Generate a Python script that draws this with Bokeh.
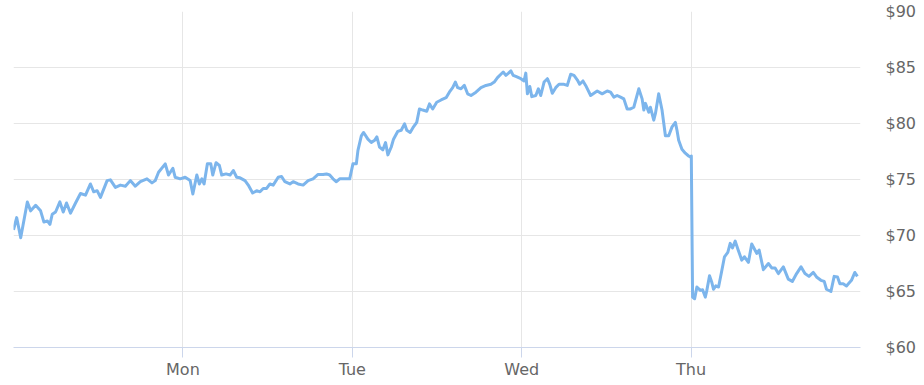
from bokeh.plotting import figure
from bokeh.models import ColumnDataSource, FixedTicker, Range1d, NumeralTickFormatter
from bokeh.embed import file_html
from bokeh.resources import INLINE

# hours since Sunday 00:00
hours = [0.0, 0.45, 1.02, 1.96, 2.43, 3.14, 3.84, 4.31, 4.79, 5.16, 5.49, 5.96, 6.57, 7.05, 7.51, 8.08,
         8.79, 9.49, 10.2, 10.9, 11.37, 11.85, 12.32, 13.26, 13.73, 14.44, 15.14, 15.85, 16.55, 17.26,
         17.97, 18.91, 19.62, 20.08, 20.55, 21.5, 21.96, 22.58, 22.91, 23.62, 24.32, 25.03, 25.41, 25.97,
         26.34, 26.68, 27.0, 27.47, 27.95, 28.23, 28.7, 29.17, 29.5, 30.11, 30.68, 31.14, 31.62, 32.09,
         32.8, 33.26, 33.88, 34.45, 34.92, 35.38, 35.86, 36.33, 36.79, 37.5, 37.98, 38.45, 39.15, 39.62,
         40.32, 41.03, 41.74, 42.44, 43.15, 43.86, 44.34, 44.8, 45.27, 45.75, 46.21, 46.92, 47.63, 48.09,
         48.57, 48.8, 49.28, 49.6, 50.21, 50.69, 51.16, 51.48, 51.86, 52.33, 52.71, 53.04, 53.52, 53.84,
         54.45, 54.93, 55.4, 55.72, 56.2, 56.67, 57.13, 57.51, 57.98, 58.55, 58.93, 59.39, 59.96, 60.58,
         61.29, 61.75, 62.22, 62.6, 62.92, 63.4, 63.87, 64.34, 64.82, 65.52, 66.23, 66.94, 67.64, 68.11,
         68.57, 69.05, 69.38, 69.76, 70.13, 70.47, 70.79, 71.17, 71.88, 72.34, 72.58, 72.81, 73.15, 73.43,
         74.0, 74.36, 74.7, 75.17, 75.64, 75.98, 76.34, 76.82, 77.29, 78.0, 78.46, 78.94, 79.41, 79.87,
         80.21, 80.68, 81.06, 81.77, 82.23, 82.7, 83.4, 84.11, 84.59, 85.06, 85.52, 86.0, 86.47, 86.94,
         87.41, 87.88, 88.59, 89.06, 89.3, 89.53, 90.0, 90.24, 90.71, 90.95, 91.41, 91.88, 92.36, 92.83,
         93.3, 93.77, 94.0, 94.24, 94.7, 95.18, 95.65, 95.89, 96.03, 96.21, 96.5, 96.82, 97.3, 97.63,
         98.01, 98.23, 98.61, 98.94, 99.18, 99.51, 99.89, 100.27, 100.73, 101.2, 101.54, 101.86, 102.25,
         102.62, 103.18, 103.56, 104.12, 104.59, 104.97, 105.3, 105.64, 106.24, 106.95, 107.42, 107.9,
         108.36, 109.07, 109.77, 110.34, 110.95, 111.57, 112.13, 112.7, 113.31, 113.77, 114.39, 114.86,
         115.18, 115.81, 116.27, 116.74, 117.08, 117.54, 118.01, 118.72, 119.2, 119.56]

price = [70.5, 71.6, 69.8, 73.0, 72.2, 72.7, 72.2, 71.2, 71.3, 71.0, 71.9, 72.1, 73.0, 72.1, 72.9, 72.0,
         72.9, 73.75, 73.6, 74.6, 73.9, 74.0, 73.4, 74.9, 74.97, 74.3, 74.5, 74.4, 74.9, 74.4,
         74.8, 75.06, 74.7, 74.9, 75.65, 76.4, 75.4, 76.0, 75.2, 75.06, 75.2, 74.9, 73.7, 75.4,
         74.6, 75.06, 74.6, 76.4, 76.4, 75.4, 76.5, 76.25, 75.4, 75.5, 75.4, 75.8, 75.2, 75.15,
         74.9, 74.5, 73.8, 74.0, 73.9, 74.2, 74.2, 74.6, 74.5, 75.2, 75.27, 74.8, 74.6, 74.8,
         74.6, 74.5, 74.9, 75.06, 75.45, 75.45, 75.5, 75.4, 75.06, 74.8, 75.06, 75.06, 75.06, 76.4,
         76.4, 77.6, 78.9, 79.2, 78.6, 78.3, 78.5, 78.8, 77.9, 77.65, 78.3, 77.2, 77.9, 78.6,
         79.3, 79.4, 79.97, 79.4, 79.2, 79.7, 80.1, 81.3, 81.2, 81.1, 81.75, 81.3, 81.9, 82.1,
         82.3, 82.8, 83.2, 83.7, 83.2, 83.1, 83.4, 82.65, 82.5, 82.8, 83.2, 83.4, 83.5, 83.7,
         84.1, 84.4, 84.6, 84.3, 84.5, 84.7, 84.3, 84.2, 84.0, 83.8, 84.5, 82.65, 83.3, 82.4,
         82.5, 83.1, 82.5, 83.7, 84.0, 83.5, 82.7, 83.2, 83.5, 83.5, 83.4, 84.4, 84.3, 83.9,
         83.5, 83.8, 83.4, 82.5, 82.7, 82.9, 82.65, 82.9, 82.8, 82.35, 82.5, 82.35, 82.2, 81.3,
         81.3, 81.45, 83.1, 82.2, 81.2, 81.8, 81.0, 81.45, 80.3, 80.9, 82.65, 81.2, 78.9, 78.9,
         79.7, 80.1, 79.4, 78.5, 77.7, 77.35, 77.1, 77.0, 77.1, 64.5, 64.35, 65.4, 65.1, 65.15,
         64.5, 65.1, 66.4, 65.8, 65.2, 65.5, 65.4, 66.6, 68.1, 68.5, 69.3, 68.9, 69.5,
         68.8, 67.8, 68.1, 67.6, 69.25, 68.8, 68.4, 68.7, 66.95, 67.5, 67.1, 67.1,
         66.6, 67.2, 66.1, 65.9, 66.6, 67.2, 66.6, 66.35, 66.7, 66.3, 66.0, 65.9,
         65.2, 65.0, 66.35, 66.3, 65.7, 65.7, 65.5, 66.0, 66.7, 66.35]

day_ticks = [24, 48, 72, 96]
day_labels = ["Mon", "Tue", "Wed", "Thu"]
price_ticks = [60, 65, 70, 75, 80, 85, 90]

src = ColumnDataSource(dict(x=hours, y=price))

p = figure(width=924, height=385, output_backend="svg", toolbar_location=None,
           x_range=Range1d(0, 120), y_range=Range1d(60, 90),
           y_axis_location="right",
           min_border_left=13, min_border_top=11, min_border_right=64, min_border_bottom=38)
p.outline_line_color = None
p.background_fill_color = "white"
p.border_fill_color = "white"

p.line("x", "y", source=src, line_color="#7cb5ec", line_width=3, line_join="round")

xa = p.xaxis[0]
xa.ticker = FixedTicker(ticks=day_ticks)
xa.major_label_overrides = {t: l for t, l in zip(day_ticks, day_labels)}
xa.axis_line_color = "#ccd6eb"
xa.major_tick_line_color = "#ccd6eb"
xa.major_tick_out = 10
xa.major_tick_in = 0
xa.minor_tick_line_color = None
xa.major_label_standoff = 2
xa.major_label_text_font = "DejaVu Sans"
xa.major_label_text_font_size = "16px"
xa.major_label_text_color = "#666666"

ya = p.yaxis[0]
ya.ticker = FixedTicker(ticks=price_ticks)
ya.formatter = NumeralTickFormatter(format="$0")
ya.axis_line_color = None
ya.major_tick_line_color = None
ya.minor_tick_line_color = None
ya.major_label_standoff = 19
ya.major_label_text_font = "DejaVu Sans"
ya.major_label_text_font_size = "16px"
ya.major_label_text_color = "#666666"

p.xgrid.ticker = FixedTicker(ticks=day_ticks)
p.xgrid.grid_line_color = "#e6e6e6"
p.ygrid.ticker = FixedTicker(ticks=price_ticks)
p.ygrid.grid_line_color = "#e6e6e6"

open("out.html", "w").write(file_html(p, INLINE))
